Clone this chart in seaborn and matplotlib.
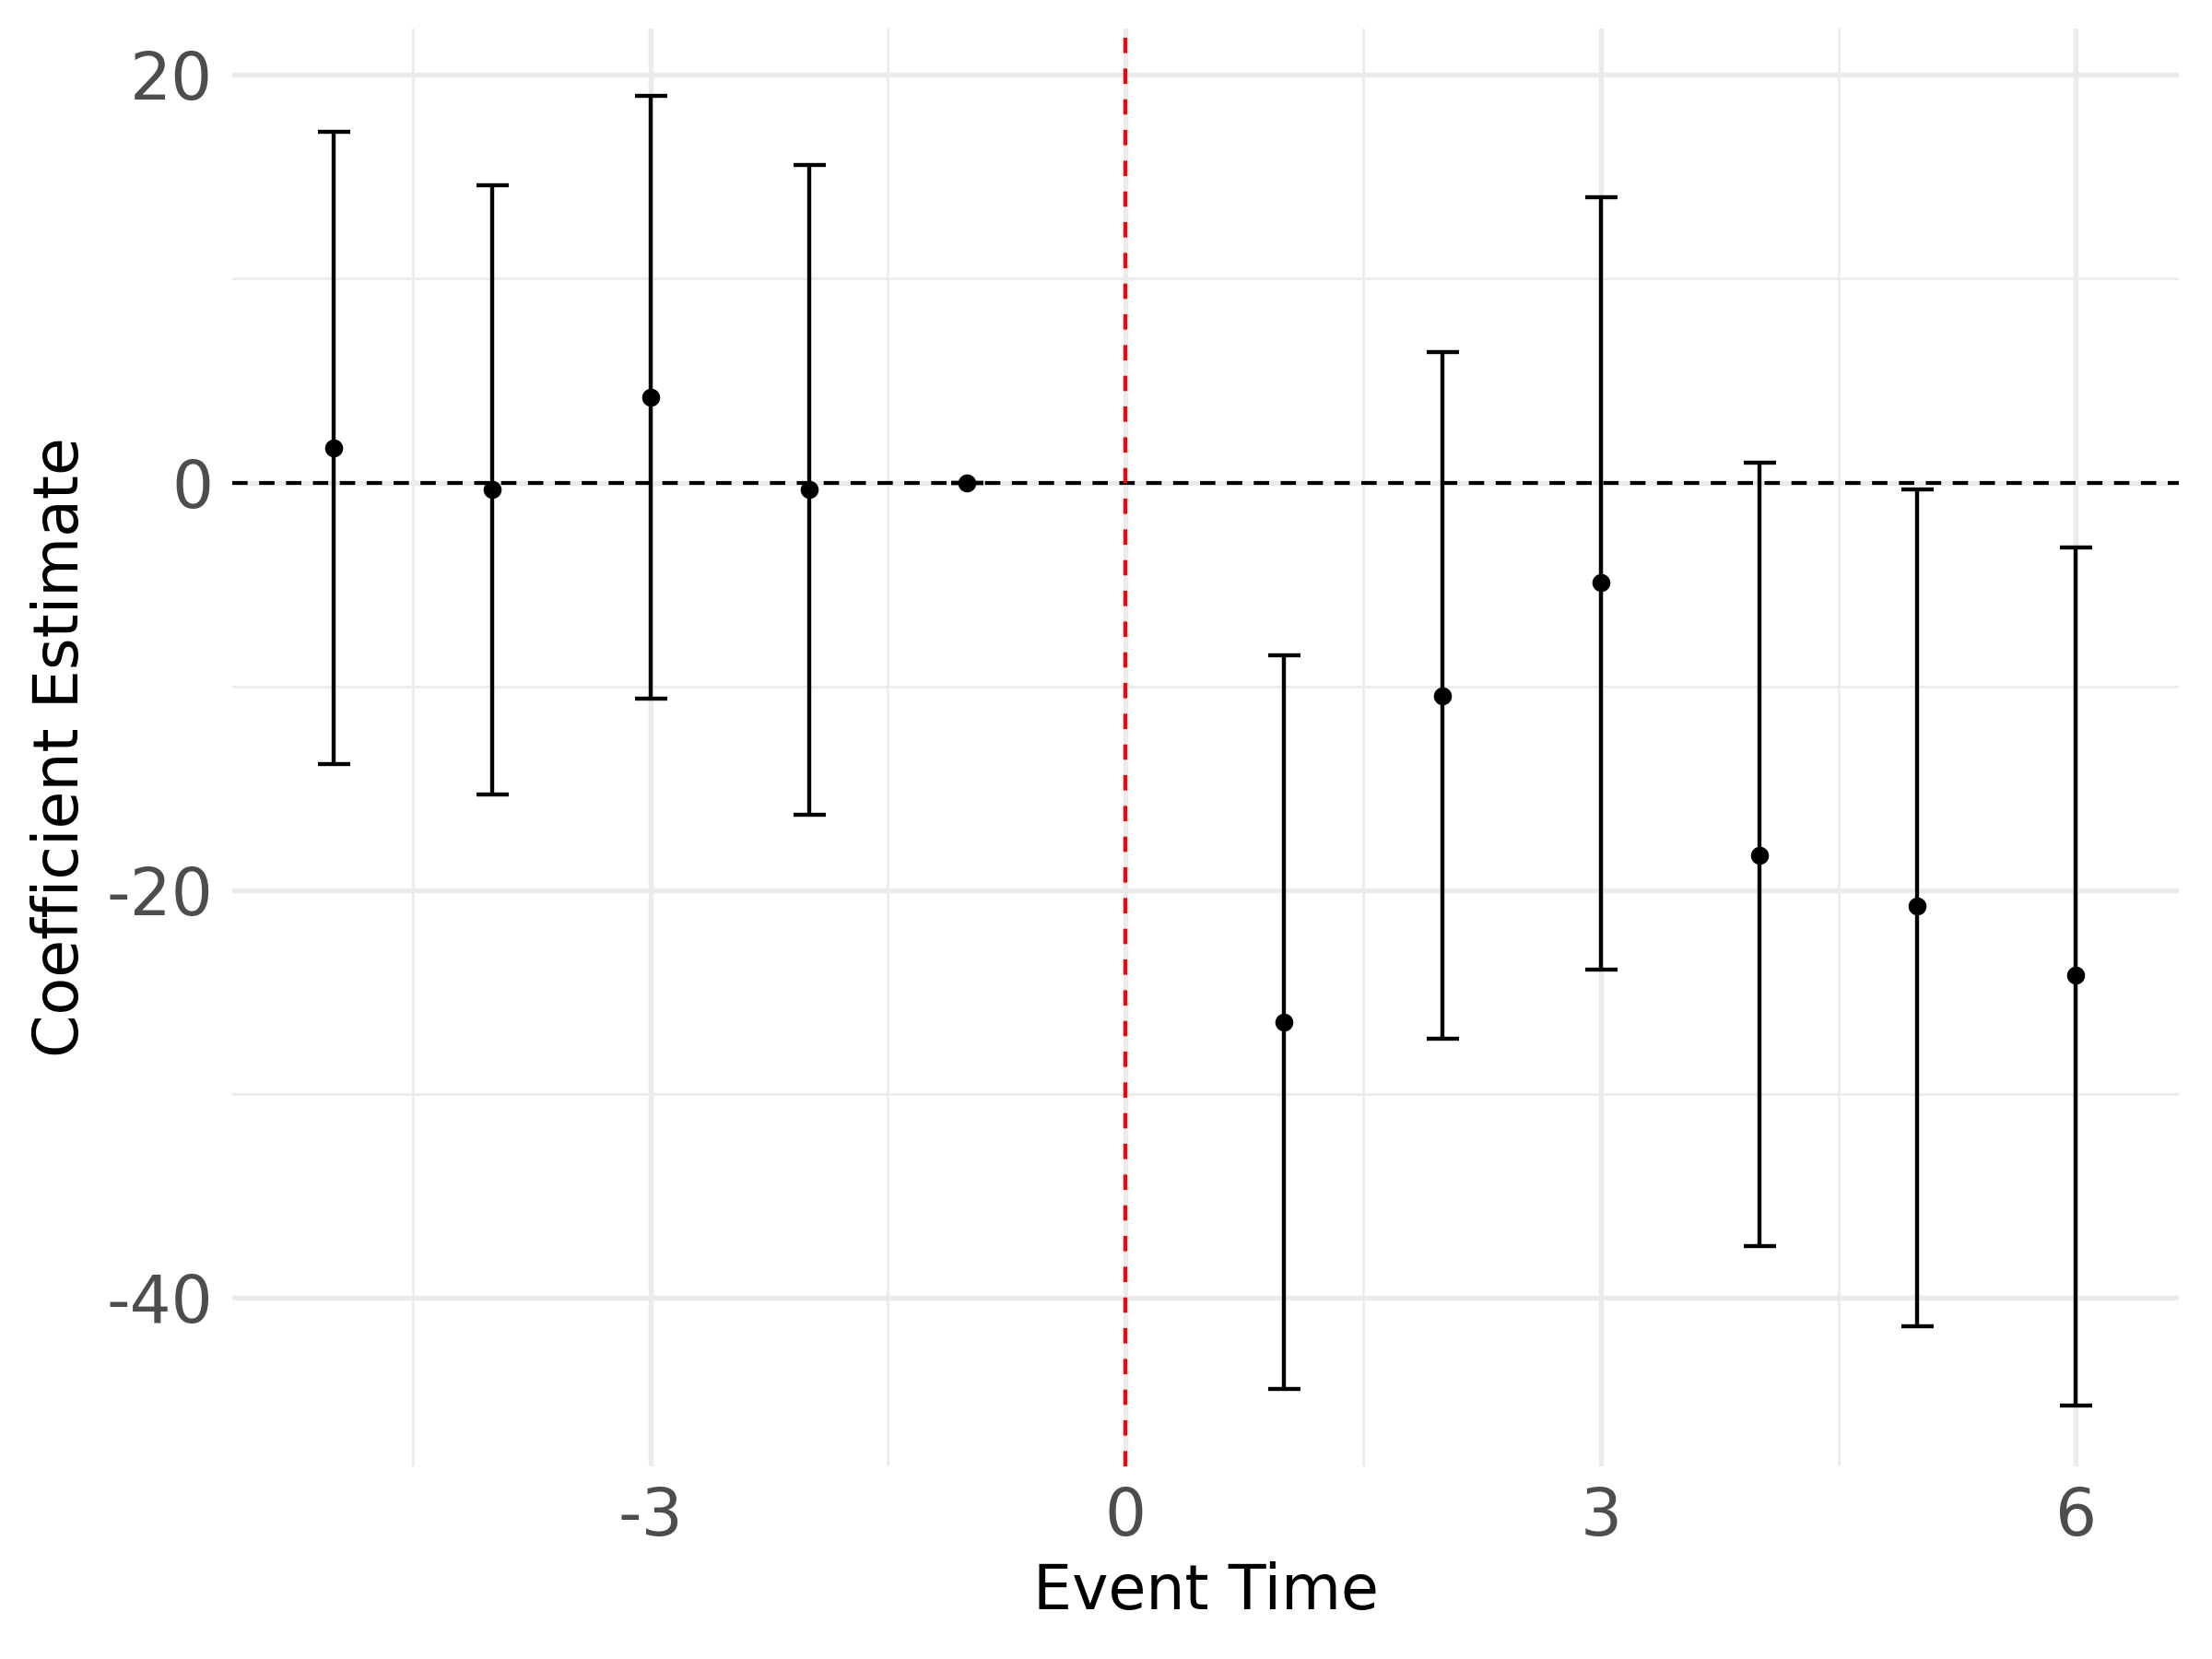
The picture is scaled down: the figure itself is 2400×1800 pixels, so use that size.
import matplotlib
matplotlib.use("Agg")
import matplotlib.pyplot as plt
import seaborn as sns
import pandas as pd
import numpy as np
from matplotlib.ticker import FixedLocator, FuncFormatter

event_time = [-5, -4, -3, -2, -1, 1, 2, 3, 4, 5, 6]
estimate = [1.7, -0.35, 4.2, -0.35, 0.0, -26.5, -10.45, -4.9, -18.3, -20.8, -24.2]
ci_upper = [17.2, 14.6, 19.0, 15.6, 0.0, -8.5, 6.4, 14.0, 0.97, -0.35, -3.2]
ci_lower = [-13.8, -15.3, -10.6, -16.3, 0.0, -44.5, -27.3, -23.9, -37.5, -41.4, -45.3]

x_ticks = [-3, 0, 3, 6]
y_ticks = [-40, -20, 0, 20]
x_minor = [-4.5, -1.5, 1.5, 4.5]
y_minor = [-30, -10, 10]

df = pd.DataFrame({"event_time": event_time, "estimate": estimate,
                   "upper": ci_upper, "lower": ci_lower})

sns.set_theme(style="white")
plt.rcParams['font.family'] = ['DejaVu Sans']

fig, ax = plt.subplots(figsize=(8, 6), dpi=300)
fig.subplots_adjust(left=0.105, right=0.985, top=0.983, bottom=0.116)

for spine in ax.spines.values():
    spine.set_visible(False)

ax.set_xlim(-5.64, 6.65)
ax.set_ylim(-48.3, 22.3)

ax.xaxis.set_major_locator(FixedLocator(x_ticks))
ax.yaxis.set_major_locator(FixedLocator(y_ticks))
ax.xaxis.set_minor_locator(FixedLocator(x_minor))
ax.yaxis.set_minor_locator(FixedLocator(y_minor))
fmt = FuncFormatter(lambda v, p: f"{v:g}".replace("\u2212", "-"))
ax.xaxis.set_major_formatter(fmt)
ax.yaxis.set_major_formatter(fmt)

ax.grid(which="major", color="#EBEBEB", linewidth=1.3)
ax.grid(which="minor", color="#EBEBEB", linewidth=0.65)
ax.set_axisbelow(True)
ax.tick_params(which="both", length=0, labelsize=17, labelcolor="#4D4D4D", pad=5)

ax.axhline(0, color="black", linestyle=(0, (4, 3)), linewidth=1.0, zorder=2)
ax.axvline(0, color="red", linestyle=(0, (4, 4)), linewidth=1.0, zorder=2)

yerr = np.array([df["estimate"] - df["lower"], df["upper"] - df["estimate"]])
ax.errorbar(df["event_time"], df["estimate"], yerr=yerr, fmt="none",
            ecolor="black", elinewidth=1.05, capsize=4.2, capthick=1.05, zorder=3)
sns.scatterplot(data=df, x="event_time", y="estimate", color="black", s=22,
                edgecolor="black", linewidth=0, zorder=4, ax=ax)

ax.set_xlabel("Event Time", fontsize=16, color="black", labelpad=3)
ax.set_ylabel("Coefficient Estimate", fontsize=16, color="black", labelpad=4)

fig.savefig("out.png", dpi=300)
